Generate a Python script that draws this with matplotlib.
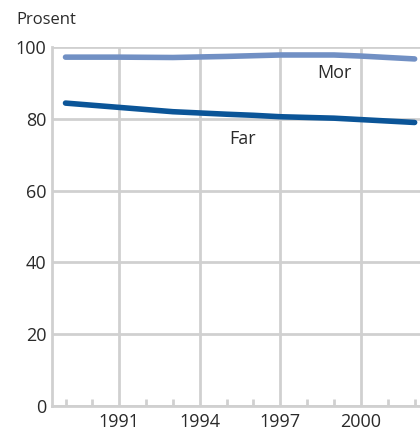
import numpy as np
import matplotlib.pyplot as plt

years = [1989, 1991, 1993, 1995, 1996, 1997, 1999, 2000, 2002]
mor = [97.2, 97.2, 97.1, 97.4, 97.6, 97.8, 97.8, 97.5, 96.7]
far = [84.4, 83.2, 82.0, 81.3, 81.0, 80.6, 80.2, 79.8, 79.0]
xticks = [1991, 1994, 1997, 2000]
yticks = [0, 20, 40, 60, 80, 100]

plt.rcParams['font.family'] = ['Open Sans', 'DejaVu Sans']

fig = plt.figure(figsize=(4.2, 4.32), dpi=100)
ax = fig.add_axes([0.124, 0.060, 0.876, 0.831])

grid_col = '#d0d0d0'
ax.plot(years, mor, color='#7190c4', lw=4, solid_capstyle='round', zorder=3)
ax.plot(years, far, color='#0b5598', lw=4, solid_capstyle='round', zorder=3)

ax.set_xlim(1988.5, 2002.2)
ax.set_ylim(0, 100)
ax.set_xticks(xticks)
ax.set_xticks([y for y in range(1989, 2003) if y not in xticks], minor=True)
ax.set_yticks(yticks)
ax.grid(True, which='major', color=grid_col, lw=2)
ax.set_axisbelow(True)

for s in ['top', 'right']:
    ax.spines[s].set_visible(False)
for s in ['left', 'bottom']:
    ax.spines[s].set_color(grid_col)
    ax.spines[s].set_linewidth(2)

ax.tick_params(axis='both', which='major', length=0, labelsize=13, colors='#2a2a2a', pad=5)
ax.tick_params(axis='x', which='minor', direction='in', length=5, width=2, color=grid_col)
ax.tick_params(axis='y', pad=4)

ax.text(1999.0, 91.3, 'Mor', fontsize=13, color='#2a2a2a', ha='center')
ax.text(1995.6, 73.0, 'Far', fontsize=13, color='#2a2a2a', ha='center')
fig.text(0.04, 0.945, 'Prosent', fontsize=12, color='#2a2a2a')

fig.savefig('out.png', dpi=100)
